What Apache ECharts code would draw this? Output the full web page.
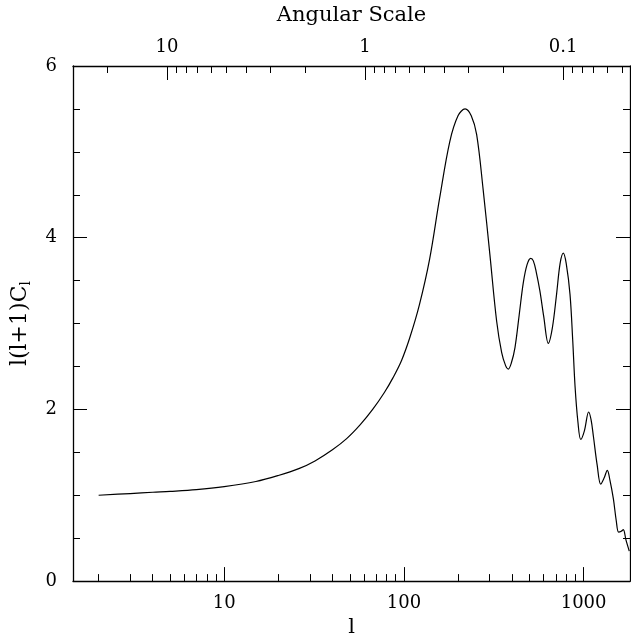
<!DOCTYPE html>
<html>
<head>
<meta charset="utf-8">
<script src="https://cdn.jsdelivr.net/npm/echarts@6/dist/echarts.min.js"></script>
<style>html,body{margin:0;padding:0;background:#fff}#c{width:631px;height:643px}</style>
</head>
<body>
<div id="c"></div>
<script>
// multipole l
const ell = [2,3,4,5,7,10,15,20,26,32,40,48,57,67,78,87,97,108,122,139,158,180,200,219,237,254,276,301,328,350,368,381,396,415,438,462,485,508,525,545,571,600,636,670,707,740,771,800,840,870,896,930,964,1010,1067,1100,1133,1190,1245,1300,1355,1400,1464,1520,1566,1620,1663,1720,1795];
// l(l+1)C_l
const power = [1.00,1.02,1.035,1.045,1.065,1.10,1.16,1.23,1.31,1.40,1.53,1.66,1.82,2.00,2.20,2.37,2.57,2.84,3.22,3.75,4.46,5.12,5.42,5.50,5.42,5.20,4.56,3.80,3.03,2.66,2.51,2.47,2.54,2.72,3.10,3.48,3.69,3.76,3.73,3.60,3.38,3.08,2.77,2.95,3.34,3.70,3.82,3.70,3.34,2.80,2.27,1.85,1.65,1.75,1.97,1.88,1.69,1.35,1.13,1.20,1.29,1.18,0.96,0.70,0.57,0.58,0.60,0.48,0.35];
// bottom axis (l) labels and range
const lMajor = [10,100,1000];
const lMinor = [2,3,4,5,6,7,8,9,20,30,40,50,60,70,80,90,200,300,400,500,600,700,800,900];
const lRange = [1.44,1812];
// top axis (angular scale) labels and range
const angMajor = [10,1,0.1];
const angMajorText = ['10','1','0.1'];
const angMinor = [20,9,8,7,6,5,4,3,2,0.9,0.8,0.7,0.6,0.5,0.4,0.3,0.2,0.09,0.08,0.07,0.06,0.05];
const angRange = [0.0459,29.84];
// y ticks
const yTicks = [0,2,4,6];

const L = Math.log10;
const FONT = 'DejaVu Serif';
const black = '#000';
const lineW = 1.3;

const chart = echarts.init(document.getElementById('c'), null, {renderer:'canvas'});
const seriesData = ell.map((l,i)=>[L(l), power[i]]);

const baseX = {
  type:'value', splitLine:{show:false}, axisPointer:{show:false}
};
chart.setOption({
  backgroundColor:'#fff',
  animation:false,
  grid:{left:73, right:1, top:65, bottom:56},
  xAxis:[
    Object.assign({}, baseX, {
      position:'bottom', min:L(lRange[0]), max:L(lRange[1]),
      axisLine:{show:true, onZero:false, lineStyle:{color:black, width:lineW}},
      axisTick:{show:true, inside:true, length:14, customValues:lMajor.map(L), lineStyle:{color:black, width:1}},
      axisLabel:{show:true, customValues:lMajor.map(L), margin:13, color:black, fontFamily:FONT, fontSize:18,
        formatter:v=>String(Math.round(Math.pow(10,v)))},
      name:'l', nameLocation:'middle', nameGap:35,
      nameTextStyle:{color:black, fontFamily:FONT, fontSize:21}
    }),
    Object.assign({}, baseX, {
      position:'bottom', min:L(lRange[0]), max:L(lRange[1]),
      axisLine:{show:false, onZero:false},
      axisTick:{show:true, inside:true, length:7, customValues:lMinor.map(L), lineStyle:{color:black, width:1}},
      axisLabel:{show:false}
    }),
    Object.assign({}, baseX, {
      position:'top', inverse:true, min:L(angRange[0]), max:L(angRange[1]),
      axisLine:{show:true, onZero:false, lineStyle:{color:black, width:lineW}},
      axisTick:{show:true, inside:true, length:14, customValues:angMajor.map(L), lineStyle:{color:black, width:1}},
      axisLabel:{show:true, customValues:angMajor.map(L), margin:10, color:black, fontFamily:FONT, fontSize:18,
        formatter:v=>{const i=angMajor.findIndex(a=>Math.abs(L(a)-v)<1e-6);return i>=0?angMajorText[i]:'';}},
      name:'Angular Scale', nameLocation:'middle', nameGap:40,
      nameTextStyle:{color:black, fontFamily:FONT, fontSize:21}
    }),
    Object.assign({}, baseX, {
      position:'top', inverse:true, min:L(angRange[0]), max:L(angRange[1]),
      axisLine:{show:false, onZero:false},
      axisTick:{show:true, inside:true, length:7, customValues:angMinor.map(L), lineStyle:{color:black, width:1}},
      axisLabel:{show:false}
    })
  ],
  yAxis:[
    {
      type:'value', position:'left', min:0, max:6, interval:2,
      splitLine:{show:false},
      axisLine:{show:true, onZero:false, lineStyle:{color:black, width:lineW}},
      axisTick:{show:true, inside:true, length:14, lineStyle:{color:black, width:1}},
      minorTick:{show:true, splitNumber:4, length:7, lineStyle:{color:black, width:1}},
      axisLabel:{show:true, margin:16, color:black, fontFamily:FONT, fontSize:18,
        customValues:yTicks},
      name:'l(l+1)C{s|l}', nameLocation:'middle', nameGap:40, nameRotate:90,
      nameTextStyle:{color:black, fontFamily:FONT, fontSize:22,
        rich:{s:{fontFamily:FONT, fontSize:14, color:black, verticalAlign:'bottom', padding:[12,0,0,0]}}}
    },
    {
      type:'value', position:'right', min:0, max:6, interval:2,
      splitLine:{show:false},
      axisLine:{show:true, onZero:false, lineStyle:{color:black, width:lineW}},
      axisTick:{show:true, inside:true, length:14, lineStyle:{color:black, width:1}},
      minorTick:{show:true, splitNumber:4, length:7, lineStyle:{color:black, width:1}},
      axisLabel:{show:false}
    }
  ],
  series:[{
    type:'line', xAxisIndex:0, yAxisIndex:0, data:seriesData,
    showSymbol:false, smooth:0.35, clip:true,
    lineStyle:{color:black, width:1.2}
  }]
});
</script>
</body>
</html>
